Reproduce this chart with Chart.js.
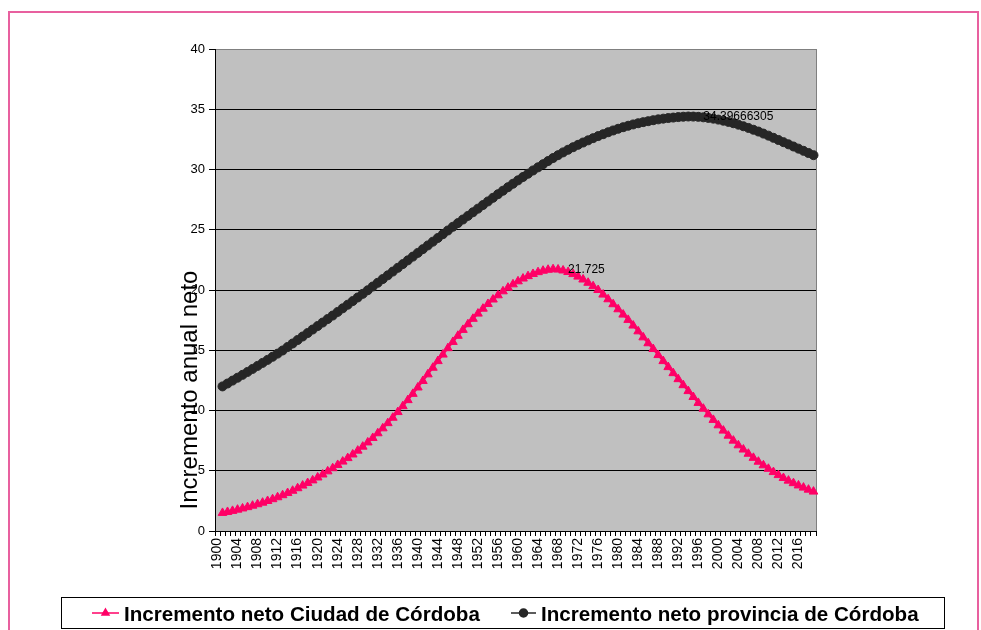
<!DOCTYPE html>
<html lang="es">
<head>
<meta charset="utf-8">
<title>Incremento anual neto</title>
<script src="https://cdn.jsdelivr.net/npm/chart.js@4.4.1/dist/chart.umd.min.js"></script>
<style>
  html, body { margin:0; padding:0; background:#fff; }
  #marco { position:absolute; left:8px; top:11px; width:967px; height:650px; border:2px solid #E8609F; }
  #wrap { position:absolute; left:0; top:0; width:981px; height:630px; }
</style>
</head>
<body>
<div id="marco"></div>
<div id="wrap"><canvas id="grafico" width="981" height="630"></canvas></div>
<script>
// Años 1900-2019 (el primer año no tiene dato)
const anios = [];
for (let a = 1900; a <= 2019; a++) anios.push(String(a));

const ticksY = [0, 5, 10, 15, 20, 25, 30, 35, 40];

// Incremento neto Ciudad de Córdoba
const ciudad = [
  null, 1.50, 1.58, 1.67, 1.77, 1.87, 1.98, 2.10, 2.22, 2.35,
  2.49, 2.64, 2.80, 2.97, 3.15, 3.34, 3.55, 3.77, 3.98, 4.20,
  4.44, 4.69, 4.95, 5.21, 5.48, 5.76, 6.05, 6.35, 6.67, 7.00,
  7.35, 7.72, 8.11, 8.52, 8.95, 9.40, 9.87, 10.36, 10.86, 11.38,
  11.91, 12.45, 13.00, 13.55, 14.10, 14.64, 15.17, 15.69, 16.20, 16.69,
  17.16, 17.61, 18.04, 18.45, 18.84, 19.21, 19.56, 19.89, 20.19, 20.47,
  20.72, 20.95, 21.15, 21.33, 21.48, 21.60, 21.68, 21.725, 21.70, 21.62,
  21.49, 21.32, 21.11, 20.87, 20.60, 20.31, 20.00, 19.62, 19.23, 18.82,
  18.40, 17.96, 17.52, 17.05, 16.57, 16.07, 15.58, 15.10, 14.60, 14.10,
  13.60, 13.10, 12.60, 12.10, 11.61, 11.12, 10.63, 10.15, 9.68, 9.22,
  8.77, 8.33, 7.91, 7.50, 7.11, 6.76, 6.41, 6.07, 5.75, 5.45,
  5.16, 4.89, 4.64, 4.40, 4.18, 3.97, 3.78, 3.60, 3.43, 3.27
];

// Incremento neto provincia de Córdoba
const provincia = [
  null, 12.00, 12.24, 12.48, 12.72, 12.96, 13.20, 13.45, 13.70, 13.95,
  14.20, 14.46, 14.72, 14.98, 15.27, 15.56, 15.85, 16.14, 16.43, 16.72,
  17.01, 17.30, 17.59, 17.88, 18.18, 18.48, 18.78, 19.08, 19.38, 19.68,
  19.98, 20.29, 20.60, 20.91, 21.22, 21.53, 21.84, 22.15, 22.46, 22.77,
  23.08, 23.39, 23.70, 24.01, 24.32, 24.63, 24.94, 25.25, 25.55, 25.85,
  26.15, 26.45, 26.75, 27.05, 27.35, 27.65, 27.95, 28.24, 28.53, 28.82,
  29.10, 29.38, 29.65, 29.92, 30.18, 30.44, 30.70, 30.95, 31.19, 31.42,
  31.64, 31.85, 32.05, 32.24, 32.42, 32.60, 32.77, 32.93, 33.09, 33.24,
  33.38, 33.51, 33.63, 33.74, 33.84, 33.93, 34.01, 34.09, 34.16, 34.22,
  34.27, 34.31, 34.35, 34.38, 34.39666305, 34.39, 34.37, 34.33, 34.28, 34.22,
  34.14, 34.05, 33.95, 33.84, 33.72, 33.59, 33.45, 33.30, 33.15, 32.98,
  32.81, 32.63, 32.45, 32.27, 32.09, 31.91, 31.73, 31.55, 31.37, 31.19
];

const nombres = ["Incremento neto Ciudad de Córdoba", "Incremento neto provincia de Córdoba"];
const colores = ["#FF0066", "#262626"];
const tituloY = "Incremento anual neto";
const fuente = '"Liberation Sans", Arial, sans-serif';

// fondo gris del área y borde derecho
const fondo = {
  id: "fondo",
  beforeDraw(chart) {
    const { ctx, chartArea: a } = chart;
    ctx.save();
    ctx.fillStyle = "#C0C0C0";
    ctx.fillRect(a.left, a.top, a.right - a.left, a.bottom - a.top);
    ctx.restore();
  },
  beforeDatasetsDraw(chart) {
    const { ctx, chartArea: a } = chart;
    ctx.save();
    ctx.strokeStyle = "#808080";
    ctx.lineWidth = 1;
    ctx.beginPath();
    ctx.moveTo(a.right + 0.5, a.top);
    ctx.lineTo(a.right + 0.5, a.bottom);
    ctx.stroke();
    ctx.restore();
  }
};

// etiqueta en el máximo de cada serie
const maximos = {
  id: "maximos",
  afterDatasetsDraw(chart) {
    const ctx = chart.ctx;
    ctx.save();
    ctx.font = "12px " + fuente;
    ctx.fillStyle = "#000";
    ctx.textAlign = "left";
    ctx.textBaseline = "middle";
    chart.data.datasets.forEach((ds, i) => {
      let im = 0;
      ds.data.forEach((v, j) => { if (v !== null && (ds.data[im] === null || v > ds.data[im])) im = j; });
      const p = chart.getDatasetMeta(i).data[im];
      ctx.fillText(String(ds.data[im]), p.x + 15, p.y);
    });
    ctx.restore();
  }
};

// título del eje y y leyenda con marco
const extras = {
  id: "extras",
  afterDraw(chart) {
    const ctx = chart.ctx;
    ctx.save();
    ctx.translate(190, 390);
    ctx.rotate(-Math.PI / 2);
    ctx.font = "24px " + fuente;
    ctx.fillStyle = "#000";
    ctx.textAlign = "center";
    ctx.textBaseline = "middle";
    ctx.fillText(tituloY, 0, 0);
    ctx.restore();

    ctx.save();
    ctx.fillStyle = "#fff";
    ctx.fillRect(61, 597, 883, 32);
    ctx.strokeStyle = "#000";
    ctx.lineWidth = 1;
    ctx.strokeRect(61.5, 597.5, 883, 31);
    const items = [
      { x0: 92, x1: 119, tx: 124, estilo: "triangle" },
      { x0: 511, x1: 536, tx: 541, estilo: "circle" }
    ];
    ctx.font = "bold 20.6px " + fuente;
    ctx.textBaseline = "alphabetic";
    ctx.textAlign = "left";
    items.forEach((it, i) => {
      const y = 613;
      ctx.strokeStyle = colores[i];
      ctx.lineWidth = 1.5;
      ctx.beginPath();
      ctx.moveTo(it.x0, y);
      ctx.lineTo(it.x1, y);
      ctx.stroke();
      ctx.fillStyle = colores[i];
      Chart.helpers.drawPoint(ctx, { pointStyle: it.estilo, radius: 4, borderWidth: 1 }, (it.x0 + it.x1) / 2, y);
      ctx.fill();
      ctx.fillStyle = "#000";
      ctx.fillText(nombres[i], it.tx, 621);
    });
    ctx.restore();
  }
};

new Chart(document.getElementById("grafico"), {
  type: "line",
  data: {
    labels: anios,
    datasets: [
      {
        label: nombres[0],
        data: ciudad,
        borderColor: colores[0],
        backgroundColor: colores[0],
        borderWidth: 2,
        pointStyle: "triangle",
        pointRadius: 5,
        pointBorderWidth: 1,
        tension: 0
      },
      {
        label: nombres[1],
        data: provincia,
        borderColor: colores[1],
        backgroundColor: colores[1],
        borderWidth: 2,
        pointStyle: "circle",
        pointRadius: 4.5,
        pointBorderWidth: 1,
        tension: 0
      }
    ]
  },
  options: {
    responsive: false,
    animation: false,
    layout: { padding: { left: 175, top: 49, right: 165, bottom: 0 } },
    plugins: { legend: { display: false }, tooltip: { enabled: false } },
    scales: {
      x: {
        offset: true,
        afterFit: s => { s.height = 99; },
        grid: { offset: true, drawOnChartArea: false, tickLength: 5, color: "#000" },
        border: { color: "#000" },
        ticks: {
          autoSkip: false,
          minRotation: 90,
          maxRotation: 90,
          padding: 2,
          color: "#000",
          font: { size: 14, family: fuente },
          callback: (v, i) => (i % 4 === 0 ? anios[i] : "")
        }
      },
      y: {
        min: ticksY[0],
        max: ticksY[ticksY.length - 1],
        afterFit: s => { s.width = 40; },
        afterBuildTicks: s => { s.ticks = ticksY.map(v => ({ value: v })); },
        grid: {
          color: c => (c.tick.value === 40 ? "#808080" : "#000"),
          tickColor: "#000",
          tickLength: 6
        },
        border: { color: "#000" },
        ticks: { padding: 4, color: "#000", font: { size: 13, family: fuente } }
      }
    }
  },
  plugins: [fondo, maximos, extras]
});
</script>
</body>
</html>
